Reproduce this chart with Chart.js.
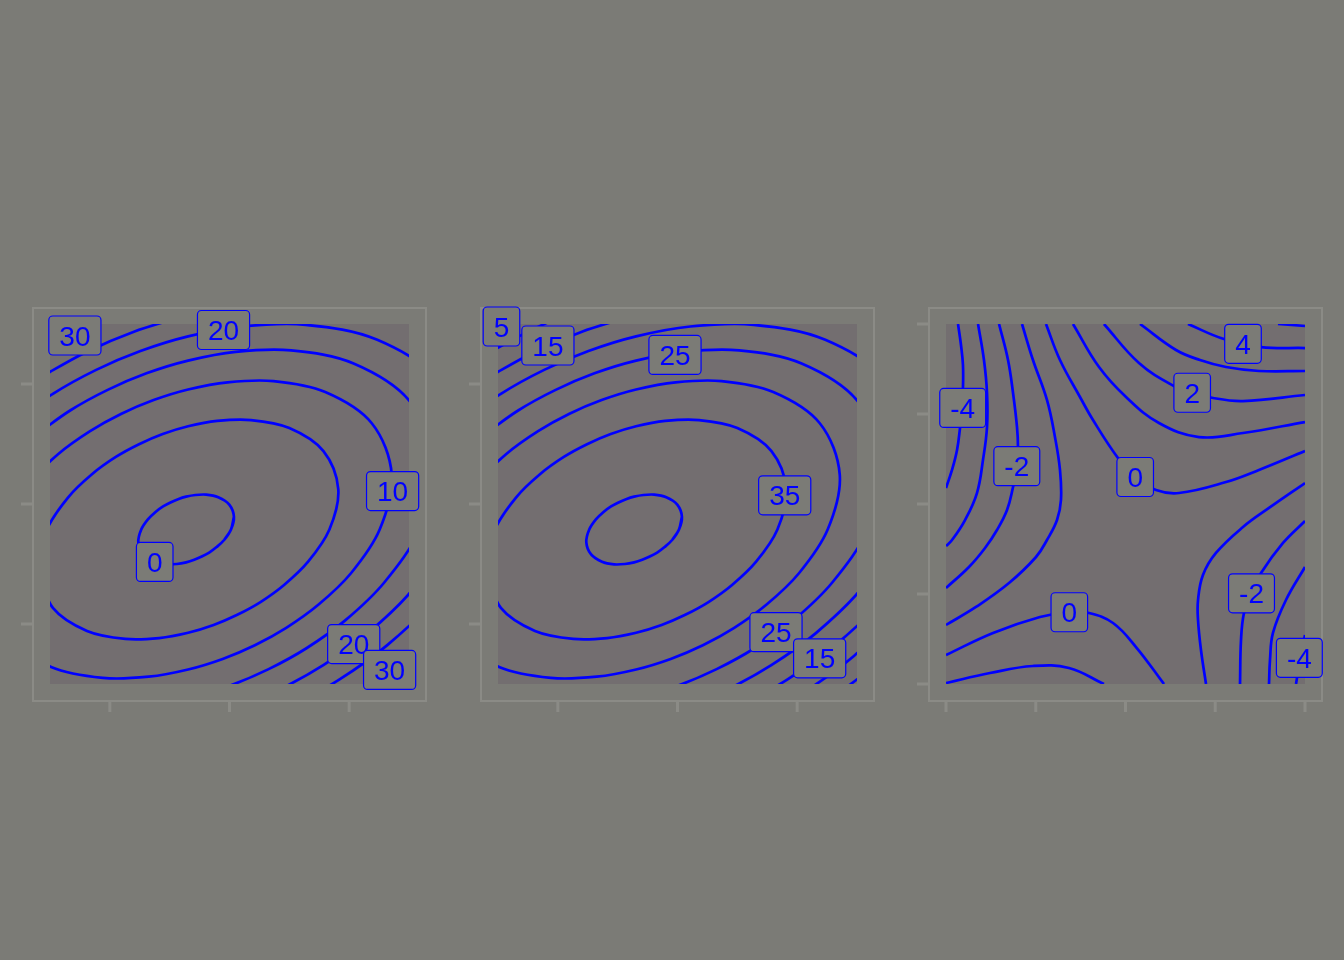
<!DOCTYPE html>
<html><head><meta charset="utf-8">
<script src="https://cdn.jsdelivr.net/npm/chart.js@4.4.1/dist/chart.umd.min.js"></script>
<style>
html,body{margin:0;padding:0;background:#7b7b76;width:1344px;height:960px;overflow:hidden;}
canvas{position:absolute;top:290px;}
</style></head><body>
<canvas id="c1" width="448" height="440" style="left:0px"></canvas>
<canvas id="c2" width="448" height="440" style="left:448px"></canvas>
<canvas id="c3" width="448" height="440" style="left:896px"></canvas>
<script>
// ---- tick values ----
const ticksBowl = [-1, 0, 1];
const ticksSaddle = [-2, -1, 0, 1, 2];

// ---- contour lines of panels 1 and 2 (same surface), [x, y] ----
const bowlF = [[0.037,-0.106],[0.0125,-0.2125],[-0.043,-0.298],[-0.108,-0.359],[-0.17,-0.405],[-0.232,-0.438],[-0.295,-0.465],[-0.3625,-0.486],[-0.44,-0.5],[-0.53,-0.503],[-0.631,-0.481],[-0.722,-0.42],[-0.762,-0.319],[-0.7375,-0.2125],[-0.682,-0.128],[-0.618,-0.066],[-0.555,-0.02],[-0.493,0.013],[-0.43,0.04],[-0.3625,0.061],[-0.285,0.075],[-0.195,0.078],[-0.094,0.056],[-0.002,-0.005],[0.037,-0.106],[0.0125,-0.2125],[-0.043,-0.298]];
const bowlE = [[-1.6,-0.548],[-1.526,-0.213],[-1.348,0.056],[-1.147,0.25],[-0.95,0.392],[-0.756,0.498],[-0.558,0.583],[-0.346,0.648],[-0.103,0.692],[0.18,0.699],[0.5,0.633],[0.785,0.441],[0.909,0.123],[0.835,-0.213],[0.657,-0.481],[0.456,-0.675],[0.259,-0.817],[0.065,-0.923],[-0.133,-1.008],[-0.346,-1.073],[-0.588,-1.117],[-0.871,-1.124],[-1.191,-1.058],[-1.476,-0.866],[-1.6,-0.548]];
const bowlD = [[-1.705,0.152],[-1.433,0.415],[-1.165,0.607],[-0.903,0.752],[-0.634,0.866],[-0.346,0.954],[-0.016,1.014],[0.368,1.024],[0.8,0.933],[1.189,0.673],[1.356,0.243],[1.255,-0.213],[1.015,-0.577],[0.742,-0.84],[0.474,-1.032],[0.212,-1.177],[-0.057,-1.291],[-0.346,-1.379],[-0.675,-1.439],[-1.059,-1.449],[-1.491,-1.358],[-1.88,-1.098]];
const bowlC = [[-1.658,0.545],[-1.335,0.777],[-1.018,0.951],[-0.694,1.089],[-0.346,1.195],[0.051,1.268],[0.515,1.28],[1.037,1.171],[1.506,0.857],[1.707,0.338],[1.586,-0.213],[1.295,-0.652],[0.967,-0.97],[0.643,-1.202],[0.327,-1.376],[0.002,-1.514],[-0.346,-1.62]];
const bowlB = [[-1.846,0.653],[-1.476,0.918],[-1.114,1.118],[-0.744,1.275],[-0.346,1.397],[0.107,1.479],[0.637,1.493],[1.235,1.368],[1.77,1.01],[2.001,0.416],[1.862,-0.2125],[1.53,-0.714],[1.154,-1.078],[0.784,-1.343],[0.423,-1.543],[0.052,-1.7]];
const bowlAUpper = [[-1.602,1.043],[-1.2,1.265],[-0.788,1.44],[-0.346,1.575]];
const bowlALower = [[2.107,-0.2125],[1.738,-0.77],[1.321,-1.174],[0.91,-1.468],[0.508,-1.69]];
const bowlLUpper = [[-1.72,1.18],[-1.28,1.42],[-0.85,1.62]];
const bowlLLower = [[2.337,-0.2125],[1.933,-0.823],[1.477,-1.264],[1.028,-1.587],[0.588,-1.829]];
const bowlK = [[2.568,-0.2125],[2.13,-0.875],[1.634,-1.355],[1.147,-1.705],[0.669,-1.968]];

// ---- contour lines of panel 3 (saddle), [x, y] ----
const sadP1 = [[-1.866,2.0],[-1.833,1.767],[-1.811,1.544],[-1.811,1.289],[-1.822,1.067],[-1.844,0.844],[-1.877,0.6],[-1.933,0.378],[-2.0,0.178]];
const sadP2 = [[-1.643,2.0],[-1.577,1.6],[-1.543,1.233],[-1.543,0.856],[-1.588,0.489],[-1.655,0.122],[-1.788,-0.178],[-1.933,-0.4],[-2.0,-0.467]];
const sadP3 = [[-1.409,2.0],[-1.309,1.6],[-1.253,1.233],[-1.209,0.856],[-1.198,0.633],[-1.209,0.411],[-1.253,0.189],[-1.32,-0.067],[-1.432,-0.289],[-1.565,-0.489],[-1.744,-0.7],[-2.0,-0.933]];
const sadP4 = [[-1.153,2.0],[-1.031,1.6],[-0.875,1.156],[-0.786,0.744],[-0.73,0.378],[-0.719,0.044],[-0.763,-0.178],[-0.875,-0.4],[-0.997,-0.589],[-1.298,-0.878],[-1.666,-1.144],[-2.0,-1.344]];
const sadP5 = [[-0.886,2.0],[-0.73,1.6],[-0.507,1.189],[-0.362,0.933],[-0.084,0.511],[0.106,0.3],[0.34,0.156],[0.596,0.122],[1.12,0.244],[1.487,0.378],[2.0,0.589]];
const sadP6 = [[-0.585,2.0],[-0.295,1.522],[0.006,1.189],[0.373,0.9],[0.819,0.744],[1.309,0.789],[2.0,0.911]];
const sadP7 = [[-0.24,2.0],[0.15,1.567],[0.54,1.311],[0.741,1.244],[0.975,1.178],[1.309,1.144],[2.0,1.211]];
const sadP8 = [[0.162,2.0],[0.563,1.711],[0.83,1.6],[1.12,1.522],[1.487,1.478],[2.0,1.478]];
const sadP9 = [[0.696,2.0],[1.097,1.833],[1.51,1.744],[2.0,1.733]];
const sadP10 = [[1.699,2.0],[2.0,1.978]];
const sadQ1 = [[-2.0,-1.989],[-1.51,-1.878],[-1.031,-1.8],[-0.63,-1.822],[-0.24,-2.0]];
const sadQ2 = [[-2.0,-1.678],[-1.476,-1.433],[-0.953,-1.256],[-0.63,-1.2],[-0.407,-1.211],[-0.139,-1.322],[0.117,-1.589],[0.429,-2.0]];
const sadR1 = [[2.0,0.233],[1.599,-0.044],[1.309,-0.256],[1.008,-0.544],[0.863,-0.789],[0.808,-1.067],[0.808,-1.289],[0.841,-1.622],[0.897,-2.0]];
const sadR2 = [[2.0,-0.189],[1.755,-0.433],[1.51,-0.767],[1.398,-0.989],[1.32,-1.211],[1.287,-1.511],[1.276,-2.0]];
const sadR3 = [[2.0,-0.7],[1.788,-1.067],[1.643,-1.433],[1.61,-1.733],[1.599,-2.0]];
const sadR4 = [[2.0,-1.456],[1.944,-1.733],[1.9,-2.0]];

// ---- contour labels [x, y, text] ----
const labels1 = [[-1.292,1.404,'30'],[-0.05,1.45,'20'],[1.363,0.108,'10'],[-0.625,-0.483,'0'],[1.038,-1.167,'20'],[1.338,-1.383,'30']];
const labels2 = [[-1.471,1.479,'5'],[-1.083,1.321,'15'],[-0.021,1.242,'25'],[0.896,0.072,'35'],[0.823,-1.068,'25'],[1.188,-1.286,'15']];
const labels3 = [[-1.814,1.067,'-4'],[-1.211,0.42,'-2'],[0.108,0.3,'0'],[0.743,1.236,'2'],[1.309,1.78,'4'],[-0.626,-1.203,'0'],[1.404,-0.993,'-2'],[1.937,-1.709,'-4']];

const bowlLines = [bowlF,bowlE,bowlD,bowlC,bowlB,bowlAUpper,bowlALower,bowlLUpper,bowlLLower,bowlK];
const saddleLines = [sadP1,sadP2,sadP3,sadP4,sadP5,sadP6,sadP7,sadP8,sadP9,sadP10,sadQ1,sadQ2,sadR1,sadR2,sadR3,sadR4];

const BG = '#7b7b76', PANEL = '#736e70', FRAME = '#8b8b86', BLUE = '#0000ff';

function decoPlugin(labels, ticks) {
  return {
    id: 'panelDeco',
    beforeDatasetsDraw(chart) {
      const ctx = chart.ctx, a = chart.chartArea, xs = chart.scales.x, ys = chart.scales.y;
      ctx.save();
      ctx.fillStyle = PANEL;
      ctx.fillRect(a.left, a.top, a.right - a.left, a.bottom - a.top);
      ctx.strokeStyle = FRAME;
      ctx.lineWidth = 2;
      ctx.strokeRect(a.left - 17, a.top - 16, (a.right - a.left) + 34, (a.bottom - a.top) + 33);
      ctx.lineWidth = 3;
      ctx.beginPath();
      ticks.forEach(v => {
        const px = xs.getPixelForValue(v);
        ctx.moveTo(px, a.bottom + 17); ctx.lineTo(px, a.bottom + 28);
        const py = ys.getPixelForValue(v);
        ctx.moveTo(a.left - 17, py); ctx.lineTo(a.left - 29, py);
      });
      ctx.stroke();
      ctx.restore();
    },
    afterDraw(chart) {
      const ctx = chart.ctx, xs = chart.scales.x, ys = chart.scales.y;
      const fs = 28;
      ctx.save();
      ctx.font = fs + 'px "Liberation Sans", Arial, sans-serif';
      labels.forEach(l => {
        const cx = xs.getPixelForValue(l[0]), cy = ys.getPixelForValue(l[1]);
        const w = ctx.measureText(l[2]).width + 21, h = 39, r = 4;
        const x0 = cx - w / 2, y0 = cy - h / 2;
        ctx.beginPath();
        ctx.moveTo(x0 + r, y0);
        ctx.arcTo(x0 + w, y0, x0 + w, y0 + h, r);
        ctx.arcTo(x0 + w, y0 + h, x0, y0 + h, r);
        ctx.arcTo(x0, y0 + h, x0, y0, r);
        ctx.arcTo(x0, y0, x0 + w, y0, r);
        ctx.closePath();
        ctx.fillStyle = BG;
        ctx.fill();
        ctx.lineWidth = 1.2;
        ctx.strokeStyle = BLUE;
        ctx.stroke();
        ctx.fillStyle = BLUE;
        ctx.textAlign = 'center';
        ctx.textBaseline = 'alphabetic';
        ctx.fillText(l[2], cx, cy + 0.358 * fs);
      });
      ctx.restore();
    }
  };
}

function makeChart(id, lines, labels, lim, ticks, tension) {
  new Chart(document.getElementById(id), {
    type: 'scatter',
    data: {
      datasets: lines.map(pts => ({
        data: pts.map(p => ({ x: p[0], y: p[1] })),
        showLine: true,
        borderColor: BLUE,
        borderWidth: 2.7,
        borderCapStyle: 'butt',
        borderJoinStyle: 'round',
        capBezierPoints: false,
        pointRadius: 0,
        pointHoverRadius: 0,
        tension: tension,
        fill: false
      }))
    },
    options: {
      responsive: false,
      animation: false,
      devicePixelRatio: 1,
      events: [],
      layout: { padding: { left: 50, right: 39, top: 34, bottom: 46 } },
      plugins: { legend: { display: false }, tooltip: { enabled: false } },
      scales: {
        x: { type: 'linear', min: -lim, max: lim, display: false },
        y: { type: 'linear', min: -lim, max: lim, display: false }
      }
    },
    plugins: [decoPlugin(labels, ticks)]
  });
}

makeChart('c1', bowlLines, labels1, 1.5, ticksBowl, 0.34);
makeChart('c2', bowlLines, labels2, 1.5, ticksBowl, 0.34);
makeChart('c3', saddleLines, labels3, 2, ticksSaddle, 0.4);
</script></body></html>
